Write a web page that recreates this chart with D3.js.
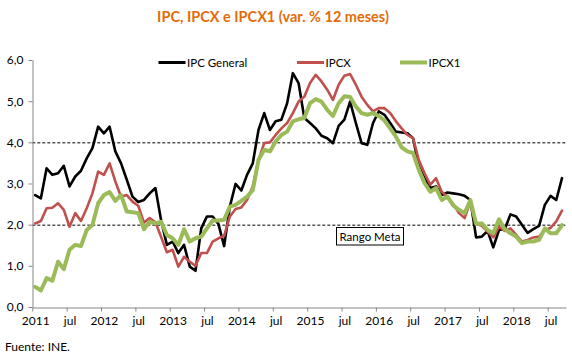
<!DOCTYPE html>
<html>
<head>
<meta charset="utf-8">
<script src="https://cdn.jsdelivr.net/npm/d3@7/dist/d3.min.js"></script>
<style>
  html, body { margin: 0; padding: 0; background: #fff; }
  svg { display: block; font-family: Lato, "Open Sans", sans-serif; }
</style>
</head>
<body>
<svg id="chart" width="572" height="360"></svg>
<script>
// ---- Data (monthly, Jan 2011 – Sep 2018) ----
const ipcGeneral = [2.72,2.64,3.37,3.21,3.25,3.43,2.93,3.17,3.31,3.61,3.86,4.38,
  4.22,4.38,3.78,3.49,3.09,2.68,2.55,2.60,2.76,2.89,2.10,1.51,
  1.59,1.31,1.51,0.98,0.88,1.91,2.20,2.20,2.02,1.48,2.44,2.99,
  2.83,3.21,3.49,4.30,4.71,4.30,4.51,4.55,4.95,5.68,5.44,4.59,
  4.47,4.34,4.16,4.10,3.98,4.40,4.55,4.99,4.47,3.98,3.94,4.47,
  4.75,4.67,4.47,4.26,4.24,4.22,4.10,3.41,3.13,2.89,2.93,2.72,
  2.78,2.76,2.74,2.70,2.60,1.69,1.71,1.85,1.45,1.87,1.89,2.25,
  2.20,2.00,1.80,1.89,1.97,2.48,2.70,2.60,3.13];
const ipcx = [2.03,2.09,2.40,2.41,2.52,2.36,1.95,2.28,2.09,2.40,2.76,3.29,
  3.21,3.49,3.05,2.68,2.72,2.56,2.46,2.05,2.16,2.06,1.70,1.33,
  1.39,0.98,1.22,1.10,1.00,1.31,1.31,1.59,1.67,1.73,2.20,2.38,
  2.42,2.60,2.93,3.57,3.98,4.00,4.18,4.34,4.47,4.71,4.99,5.11,
  5.44,5.64,5.48,5.28,5.03,5.40,5.62,5.66,5.40,5.11,4.91,4.75,
  4.83,4.83,4.71,4.51,4.34,4.18,4.10,3.57,3.25,2.97,3.13,2.80,
  2.68,2.50,2.28,2.16,2.56,2.03,1.97,1.83,1.69,1.95,1.85,1.91,
  1.75,1.59,1.63,1.69,1.71,1.87,1.92,2.08,2.34];
const ipcx1 = [0.49,0.40,0.70,0.64,1.10,0.92,1.39,1.51,1.48,1.87,1.99,2.52,
  2.72,2.79,2.58,2.72,2.32,2.30,2.28,1.89,2.07,2.03,2.07,1.75,
  1.67,1.51,1.89,1.59,1.67,1.71,1.91,2.10,2.10,2.12,2.44,2.48,
  2.58,2.68,2.84,3.57,3.82,3.78,4.02,4.18,4.26,4.51,4.56,4.59,
  4.95,5.05,4.99,4.79,4.64,4.95,5.12,5.10,4.87,4.71,4.67,4.71,
  4.64,4.53,4.34,4.14,3.88,3.78,3.74,3.33,3.01,2.80,2.89,2.60,
  2.68,2.47,2.36,2.28,2.60,2.02,2.03,1.87,1.79,2.13,1.89,1.79,
  1.71,1.55,1.59,1.59,1.63,1.91,1.79,1.79,1.99];

const seriesNames = ["IPC General", "IPCX", "IPCX1"];
const seriesColors = ["#000000", "#C0504D", "#9BBB59"];
const seriesWidths = [2.6, 2.6, 4];
const xTickLabels = ["2011","jul","2012","jul","2013","jul","2014","jul",
                     "2015","jul","2016","jul","2017","jul","2018","jul"];
const yTicks = [0,1,2,3,4,5,6];
const refLines = [4, 2];
const title = "IPC, IPCX e IPCX1 (var. % 12 meses)";
const source = "Fuente: INE.";
const annotation = "Rango Meta";

// ---- Layout ----
const svg = d3.select("#chart");
const nMonths = ipcGeneral.length; // 93
const x = d3.scaleLinear().domain([0, nMonths + 0.2]).range([32.3, 566]);
const y = d3.scaleLinear().domain([0, 6]).range([307, 60]);
const axisColor = "#868686";

// Title
svg.append("text")
  .attr("x", 273).attr("y", 22)
  .attr("text-anchor", "middle")
  .attr("font-size", 14.5).attr("font-weight", "bold")
  .attr("fill", "#E36C09")
  .text(title);

// Reference dashed lines
svg.selectAll("line.ref").data(refLines).enter().append("line")
  .attr("class", "ref")
  .attr("x1", x(0)).attr("x2", x.range()[1])
  .attr("y1", d => y(d) + 0.5).attr("y2", d => y(d) + 0.5)
  .attr("stroke", "#000").attr("stroke-width", 1)
  .attr("stroke-dasharray", "3,2");

// Y axis
const yAxis = d3.axisLeft(y).tickValues(yTicks).tickSize(4).tickSizeOuter(0)
  .tickFormat(d => d3.format(".1f")(d).replace(".", ","));
const gy = svg.append("g").attr("transform", "translate(32.5,0)").call(yAxis);
gy.select(".domain").attr("stroke", axisColor);
gy.selectAll(".tick line").attr("stroke", axisColor);
gy.selectAll(".tick text").attr("font-size", 12).attr("fill", "#000")
  .attr("font-family", "Lato, sans-serif").attr("x", -9);

// X axis
const xTickVals = xTickLabels.map((_, k) => k * 6);
const xAxis = d3.axisBottom(x).tickValues(xTickVals).tickSize(4).tickSizeOuter(0)
  .tickFormat((d, k) => xTickLabels[k]);
const gx = svg.append("g").attr("transform", "translate(0,307.5)").call(xAxis);
gx.select(".domain").attr("stroke", axisColor);
gx.selectAll(".tick line").attr("stroke", axisColor);
gx.selectAll(".tick text").attr("font-size", 12).attr("fill", "#000")
  .attr("font-family", "Lato, sans-serif")
  .attr("dx", x(0.5) - x(0)).attr("y", 9);

// Lines
const line = d3.line().x((d, i) => x(i + 0.5)).y(d => y(d));
const allSeries = [ipcGeneral, ipcx, ipcx1];
allSeries.forEach((s, k) => {
  svg.append("path").datum(s)
    .attr("d", line)
    .attr("fill", "none")
    .attr("stroke", seriesColors[k])
    .attr("stroke-width", seriesWidths[k])
    .attr("stroke-linejoin", "round")
    .attr("stroke-linecap", "round");
});

// Legend
const legendX = [158.5, 297, 400];
seriesNames.forEach((n, k) => {
  svg.append("line")
    .attr("x1", legendX[k]).attr("x2", legendX[k] + 27)
    .attr("y1", 62.5).attr("y2", 62.5)
    .attr("stroke", seriesColors[k]).attr("stroke-width", k === 2 ? 4 : 3);
  svg.append("text")
    .attr("x", legendX[k] + 28.5).attr("y", 66.5)
    .attr("font-size", 11.5).attr("fill", "#000")
    .text(n);
});

// Annotation box
const annG = svg.append("g");
annG.append("rect")
  .attr("x", 336.5).attr("y", 227.5).attr("width", 67).attr("height", 17.5)
  .attr("fill", "#fff").attr("stroke", "#000").attr("stroke-width", 1);
annG.append("text")
  .attr("x", 370).attr("y", 240.5).attr("text-anchor", "middle")
  .attr("font-size", 11.5).attr("fill", "#000")
  .text(annotation);

// Source
svg.append("text")
  .attr("x", 5).attr("y", 351)
  .attr("font-size", 12).attr("fill", "#000")
  .text(source);
</script>
</body>
</html>
